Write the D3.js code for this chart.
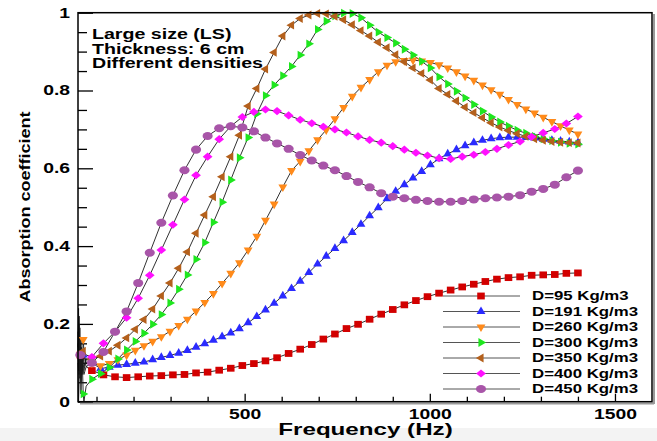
<!DOCTYPE html>
<html>
<head>
<meta charset="utf-8">
<script src="https://d3js.org/d3.v7.min.js"></script>
<style>
    body { margin: 0; background: #fff; }
    svg { display: block; }
</style>
</head>
<body>
<svg width="657" height="441"></svg>
<script>
// marker frequencies (Hz) - squares, diamonds and circles share one grid, triangles another
const freqWide = [56.25, 87.5, 118.75, 150, 181.25, 212.5, 243.75, 275, 306.25, 337.5,
    368.75, 400, 431.25, 462.5, 493.75, 525, 556.25, 587.5, 618.75, 650,
    681.25, 712.5, 743.75, 775, 806.25, 837.5, 868.75, 900, 931.25, 962.5,
    993.75, 1025, 1056.25, 1087.5, 1118.75, 1150, 1181.25, 1212.5, 1243.75, 1275,
    1306.25, 1337.5, 1368.75, 1400];
const freqTri = [64.1, 87.5, 110.9, 134.4, 157.8, 181.3, 204.7, 228.1, 251.6, 275,
    298.4, 321.9, 345.3, 368.8, 392.2, 415.6, 439.1, 462.5, 485.9, 509.4,
    532.8, 556.3, 579.7, 603.1, 626.6, 650, 673.4, 696.9, 720.3, 743.8,
    767.2, 790.6, 814.1, 837.5, 860.9, 884.4, 907.8, 931.3, 954.7, 978.1,
    1001.6, 1025, 1048.4, 1071.9, 1095.3, 1118.8, 1142.2, 1165.6, 1189.1, 1212.5,
    1235.9, 1259.4, 1282.8, 1306.3, 1329.7, 1353.1, 1376.6, 1400];
// unmarked start of every curve (noisy low-frequency part)
const lowFreqs = [50, 51.5, 53, 55, 58, 61, 66, 72];

// absorption coefficients
const d95 = [0.12, 0.08, 0.069, 0.064, 0.062, 0.064, 0.066, 0.067, 0.069, 0.070,
    0.074, 0.076, 0.081, 0.086, 0.093, 0.098, 0.105, 0.113, 0.124, 0.135,
    0.147, 0.161, 0.174, 0.188, 0.199, 0.212, 0.225, 0.237, 0.249, 0.260,
    0.270, 0.279, 0.287, 0.295, 0.302, 0.309, 0.315, 0.319, 0.321, 0.325,
    0.326, 0.327, 0.330, 0.331];
const d191 = [0.12, 0.10, 0.085, 0.089, 0.094, 0.096, 0.099, 0.102, 0.108, 0.114,
    0.119, 0.125, 0.132, 0.140, 0.149, 0.158, 0.167, 0.177, 0.188, 0.203,
    0.219, 0.236, 0.253, 0.272, 0.291, 0.310, 0.332, 0.354, 0.374, 0.394,
    0.414, 0.435, 0.456, 0.478, 0.499, 0.522, 0.541, 0.558, 0.575, 0.592,
    0.609, 0.625, 0.637, 0.648, 0.658, 0.666, 0.672, 0.676, 0.679, 0.680,
    0.680, 0.680, 0.678, 0.675, 0.672, 0.670, 0.668, 0.666];
const d260 = [0.16, 0.10, 0.092, 0.098, 0.108, 0.120, 0.132, 0.144, 0.155, 0.167,
    0.181, 0.196, 0.212, 0.233, 0.255, 0.278, 0.304, 0.330, 0.357, 0.390,
    0.425, 0.466, 0.508, 0.552, 0.594, 0.618, 0.645, 0.673, 0.699, 0.727,
    0.756, 0.785, 0.808, 0.828, 0.848, 0.865, 0.874, 0.877, 0.878, 0.876,
    0.872, 0.866, 0.858, 0.848, 0.837, 0.826, 0.814, 0.802, 0.790, 0.777,
    0.764, 0.752, 0.742, 0.731, 0.720, 0.709, 0.698, 0.688];
const d300 = [0.02, 0.058, 0.072, 0.088, 0.110, 0.133, 0.155, 0.176, 0.199, 0.224,
    0.254, 0.289, 0.326, 0.366, 0.409, 0.461, 0.513, 0.570, 0.627, 0.679,
    0.740, 0.787, 0.814, 0.838, 0.862, 0.891, 0.920, 0.957, 0.978, 0.992,
    0.999, 0.998, 0.987, 0.968, 0.950, 0.936, 0.922, 0.906, 0.891, 0.875,
    0.858, 0.835, 0.817, 0.798, 0.781, 0.764, 0.747, 0.732, 0.719, 0.708,
    0.698, 0.690, 0.682, 0.676, 0.671, 0.667, 0.664, 0.662];
const d350 = [0.13, 0.11, 0.117, 0.130, 0.145, 0.164, 0.186, 0.211, 0.238, 0.272,
    0.305, 0.343, 0.385, 0.433, 0.480, 0.527, 0.578, 0.630, 0.685, 0.760,
    0.805, 0.855, 0.898, 0.940, 0.968, 0.985, 0.994, 0.998, 0.997, 0.991,
    0.982, 0.969, 0.954, 0.940, 0.924, 0.910, 0.892, 0.874, 0.858, 0.844,
    0.827, 0.805, 0.790, 0.773, 0.757, 0.743, 0.730, 0.717, 0.706, 0.697,
    0.689, 0.682, 0.676, 0.672, 0.669, 0.667, 0.666, 0.665];
const d400 = [0.12, 0.115, 0.15, 0.18, 0.216, 0.266, 0.325, 0.390, 0.455, 0.520,
    0.582, 0.630, 0.675, 0.708, 0.732, 0.745, 0.751, 0.747, 0.736, 0.725,
    0.716, 0.707, 0.700, 0.692, 0.682, 0.673, 0.666, 0.657, 0.648, 0.640,
    0.633, 0.626, 0.624, 0.630, 0.635, 0.642, 0.650, 0.660, 0.669, 0.681,
    0.691, 0.701, 0.715, 0.733];
const d450 = [0.12, 0.10, 0.128, 0.18, 0.232, 0.305, 0.383, 0.460, 0.530, 0.595,
    0.648, 0.683, 0.703, 0.708, 0.705, 0.695, 0.679, 0.664, 0.650, 0.634,
    0.620, 0.607, 0.595, 0.580, 0.565, 0.551, 0.536, 0.527, 0.523, 0.519,
    0.516, 0.514, 0.514, 0.516, 0.520, 0.523, 0.525, 0.527, 0.531, 0.540,
    0.547, 0.558, 0.577, 0.594];

const low95 = [0.13, 0.20, 0.08, 0.15, 0.05, 0.10, 0.07, 0.09];
const low191 = [0.15, 0.09, 0.22, 0.06, 0.14, 0.08, 0.12, 0.09];
const low260 = [0.18, 0.12, 0.20, 0.09, 0.16, 0.07, 0.13, 0.10];
const low300 = [0.10, 0.0, 0.05, 0.15, 0.02, 0.12, 0.0, 0.04];
const low350 = [0.14, 0.24, 0.10, 0.19, 0.07, 0.13, 0.09, 0.11];
const low400 = [0.12, 0.08, 0.17, 0.11, 0.14, 0.09, 0.13, 0.12];
const low450 = [0.11, 0.16, 0.07, 0.13, 0.10, 0.12, 0.08, 0.11];

const seriesNames = ['D=95 Kg/m3', 'D=191 Kg/m3', 'D=260 Kg/m3', 'D=300 Kg/m3',
    'D=350 Kg/m3', 'D=400 Kg/m3', 'D=450 Kg/m3'];

const xTicks = [500, 1000, 1500];
const xTickLabels = ['500', '1000', '1500'];
const yTicks = [0, 0.2, 0.4, 0.6, 0.8, 1];
const yTickLabels = ['0', '0.2', '0.4', '0.6', '0.8', '1'];
const noteLines = ['Large size (LS)', 'Thickness: 6 cm', 'Different densities'];

// table used for drawing
const series = [
    { name: seriesNames[0], f: freqWide, v: d95, low: low95, color: '#d20000', type: d3.symbolSquare, size: 52, rot: 0, sx: 1.05, sy: 0.95 },
    { name: seriesNames[1], f: freqTri, v: d191, low: low191, color: '#2a2aff', type: d3.symbolTriangle, size: 34, rot: 0, sx: 1, sy: 1 },
    { name: seriesNames[2], f: freqTri, v: d260, low: low260, color: '#ff8a1a', type: d3.symbolTriangle, size: 34, rot: 180, sx: 1, sy: 1 },
    { name: seriesNames[3], f: freqTri, v: d300, low: low300, color: '#1ee61e', type: d3.symbolTriangle, size: 34, rot: 90, sx: 1, sy: 1 },
    { name: seriesNames[4], f: freqTri, v: d350, low: low350, color: '#b4601c', type: d3.symbolTriangle, size: 34, rot: -90, sx: 1, sy: 1 },
    { name: seriesNames[5], f: freqWide, v: d400, low: low400, color: '#ff10ff', type: d3.symbolSquare, size: 36, rot: 45, sx: 1.15, sy: 0.95 },
    { name: seriesNames[6], f: freqWide, v: d450, low: low450, color: '#a855a8', type: d3.symbolCircle, size: 56, rot: 0, sx: 1.2, sy: 0.95 }
];

const svg = d3.select('svg');
const font = '"Liberation Sans", Arial, Helvetica, sans-serif';
const x = d3.scaleLinear().domain([50, 1600]).range([78, 652]);
const y = d3.scaleLinear().domain([0, 1]).range([401.7, 12.7]);

// the original uses a wide bold font: stretch texts horizontally
function widen(sel, k) {
    sel.each(function() {
        const w = this.getComputedTextLength();
        d3.select(this).attr('textLength', w * k).attr('lengthAdjust', 'spacingAndGlyphs');
    });
}

svg.append('rect').attr('x', 0).attr('y', 0).attr('width', 657).attr('height', 441).attr('fill', '#fff');
svg.append('rect').attr('x', 0).attr('y', 428).attr('width', 657).attr('height', 13).attr('fill', '#f3f3f3');

// axes (ticks point inward)
const yMinor = d3.range(0.05, 1, 0.05).filter(d => Math.abs(d * 5 - Math.round(d * 5)) > 1e-6);
const xMinor = d3.range(100, 1600, 100).filter(d => d % 500 !== 0);

svg.append('g').attr('transform', 'translate(78,0)')
    .call(d3.axisLeft(y).tickValues(yMinor).tickFormat(() => '').tickSize(-9).tickSizeOuter(0));
const yAxisG = svg.append('g').attr('transform', 'translate(78,0)')
    .call(d3.axisLeft(y).tickValues(yTicks).tickFormat((d, i) => yTickLabels[i]).tickSize(-15).tickSizeOuter(0).tickPadding(8));
svg.append('g').attr('transform', 'translate(0,401.7)')
    .call(d3.axisBottom(x).tickValues(xMinor).tickFormat(() => '').tickSize(-5).tickSizeOuter(0));
const xAxisG = svg.append('g').attr('transform', 'translate(0,401.7)')
    .call(d3.axisBottom(x).tickValues(xTicks).tickFormat((d, i) => xTickLabels[i]).tickSize(-8).tickSizeOuter(0).tickPadding(7));

svg.selectAll('.domain').remove();
svg.selectAll('.tick line').attr('stroke', '#000').attr('stroke-width', 1.3);
svg.selectAll('.tick text').attr('font-family', font).attr('font-weight', 'bold').attr('font-size', 14).attr('fill', '#000');
widen(svg.selectAll('.tick text'), 1.38);

// curves
const line = d3.line().x(d => x(d[0])).y(d => y(d[1]));
series.forEach(s => {
    const pts = s.low.map((v, i) => [lowFreqs[i], v])
        .concat(s.v.map((v, i) => [s.f[i], v]))
        .sort((a, b) => a[0] - b[0]);
    svg.append('path').datum(pts)
        .attr('d', line)
        .attr('fill', 'none')
        .attr('stroke', '#1a1a1a')
        .attr('stroke-width', 0.9);
});

function symbolPath(s) {
    return d3.symbol().type(s.type).size(s.size)();
}

series.forEach(s => {
    svg.append('g').selectAll('path')
        .data(s.v.map((v, i) => [s.f[i], v]))
        .join('path')
        .attr('d', symbolPath(s))
        .attr('transform', d => `translate(${x(d[0])},${y(d[1])}) scale(${s.sx},${s.sy}) rotate(${s.rot})`)
        .attr('fill', s.color);
});

// frame with the slight shadow of the original
svg.append('line').attr('x1', 654).attr('x2', 654).attr('y1', 14).attr('y2', 404).attr('stroke', '#9a9a9a').attr('stroke-width', 2);
svg.append('line').attr('x1', 80).attr('x2', 654).attr('y1', 403.5).attr('y2', 403.5).attr('stroke', '#9a9a9a').attr('stroke-width', 2);
svg.append('rect').attr('x', 78).attr('y', 12.7).attr('width', 574).attr('height', 389)
    .attr('fill', 'none').attr('stroke', '#000').attr('stroke-width', 1.5);

// legend
const legend = svg.append('g');
series.forEach((s, i) => {
    const cy = 296 + i * 15.5;
    legend.append('line').attr('x1', 443).attr('x2', 520).attr('y1', cy).attr('y2', cy)
        .attr('stroke', '#555').attr('stroke-width', 1);
    legend.append('path').attr('d', symbolPath(s))
        .attr('transform', `translate(481,${cy}) scale(${s.sx},${s.sy}) rotate(${s.rot})`)
        .attr('fill', s.color);
    legend.append('text').attr('x', 532).attr('y', cy + 4.3).text(s.name)
        .attr('font-family', font).attr('font-weight', 'bold').attr('font-size', 12).attr('fill', '#000');
});
widen(legend.selectAll('text'), 1.4);

// annotation
const note = svg.append('g');
noteLines.forEach((t, i) => {
    note.append('text').attr('x', 92).attr('y', 39 + i * 14.6).text(t)
        .attr('font-family', font).attr('font-weight', 'bold').attr('font-size', 14).attr('fill', '#000');
});
widen(note.selectAll('text'), 1.4);

// axis titles
const xTitle = svg.append('text').attr('x', 365.5).attr('y', 435).attr('text-anchor', 'middle')
    .text('Frequency (Hz)')
    .attr('font-family', font).attr('font-weight', 'bold').attr('font-size', 17).attr('fill', '#000');
widen(xTitle, 1.42);
const yTitle = svg.append('text').attr('transform', 'translate(30,207) rotate(-90)').attr('text-anchor', 'middle')
    .text('Absorption coefficient')
    .attr('font-family', font).attr('font-weight', 'bold').attr('font-size', 15).attr('fill', '#000');
widen(yTitle, 1.2);
</script>
</body>
</html>
